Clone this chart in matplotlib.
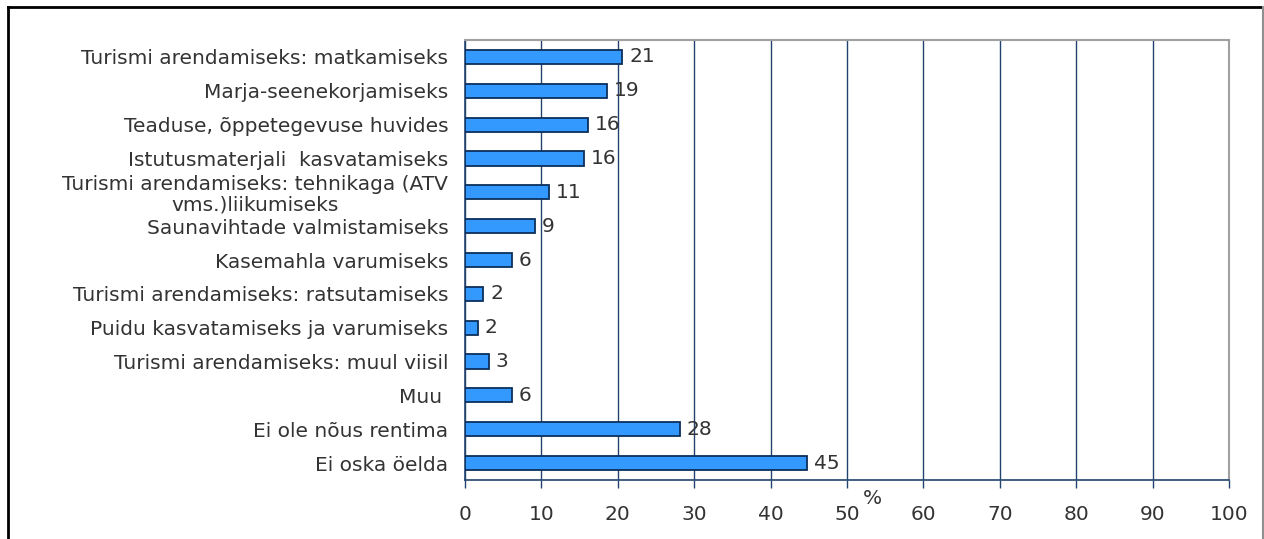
import matplotlib.pyplot as plt
from matplotlib.lines import Line2D

categories = [
    'Turismi arendamiseks: matkamiseks',
    'Marja-seenekorjamiseks',
    'Teaduse, õppetegevuse huvides',
    'Istutusmaterjali  kasvatamiseks',
    'Turismi arendamiseks: tehnikaga (ATV\nvms.)liikumiseks',
    'Saunavihtade valmistamiseks',
    'Kasemahla varumiseks',
    'Turismi arendamiseks: ratsutamiseks',
    'Puidu kasvatamiseks ja varumiseks',
    'Turismi arendamiseks: muul viisil',
    'Muu ',
    'Ei ole nõus rentima',
    'Ei oska öelda',
]
values = [20.6, 18.6, 16.1, 15.6, 11.0, 9.2, 6.1, 2.4, 1.7, 3.1, 6.1, 28.1, 44.8]
xticks = list(range(0, 101, 10))

txt = '#333333'
navy = '#23436f'
fs = 14.5

fig = plt.figure(figsize=(12.64, 5.39), dpi=100)
ax = fig.add_axes([465 / 1264, 59 / 539, 764 / 1264, 440 / 539])

y = list(range(len(categories)))
ax.barh(y, values, height=0.42, color='#3399ff', edgecolor='#0d2f5c',
        linewidth=1.3, zorder=3)
for yi, v in zip(y, values):
    ax.text(v + 0.9, yi, f'{v:.0f}', va='center', ha='left',
            fontsize=fs, color=txt)

ax.set_ylim(len(categories) - 0.5, -0.5)
ax.set_xlim(0, 100)
ax.set_yticks(y)
ax.set_yticklabels(categories, fontsize=fs, color=txt,
                   multialignment='center', linespacing=1.1)
ax.set_xticks(xticks)
ax.set_xticklabels([str(t) for t in xticks], fontsize=fs, color=txt)
ax.tick_params(axis='y', length=0, pad=12)
ax.tick_params(axis='x', length=6, width=1, color=navy, pad=12)
ax.xaxis.grid(True, color=navy, linewidth=1, zorder=0)
ax.set_axisbelow(True)

for s in ('left', 'bottom'):
    ax.spines[s].set_color(navy)
    ax.spines[s].set_linewidth(1.2)
for s in ('top', 'right'):
    ax.spines[s].set_color('#a0a0a0')
    ax.spines[s].set_linewidth(1.5)

ax.text(0.533, -0.02, '%', transform=ax.transAxes, ha='center', va='top',
        fontsize=fs, color=txt)

# outer frame
W, H = 1264, 539
fig.add_artist(Line2D([8 / W, 8 / W], [0, 1 - 7 / H], color='black', lw=2,
                      transform=fig.transFigure))
fig.add_artist(Line2D([8 / W, 1263 / W], [1 - 7 / H, 1 - 7 / H], color='black',
                      lw=2, transform=fig.transFigure))
fig.add_artist(Line2D([1263 / W, 1263 / W], [0, 1 - 7 / H], color='#909090',
                      lw=1.5, transform=fig.transFigure))

fig.savefig('out.png', dpi=100)
